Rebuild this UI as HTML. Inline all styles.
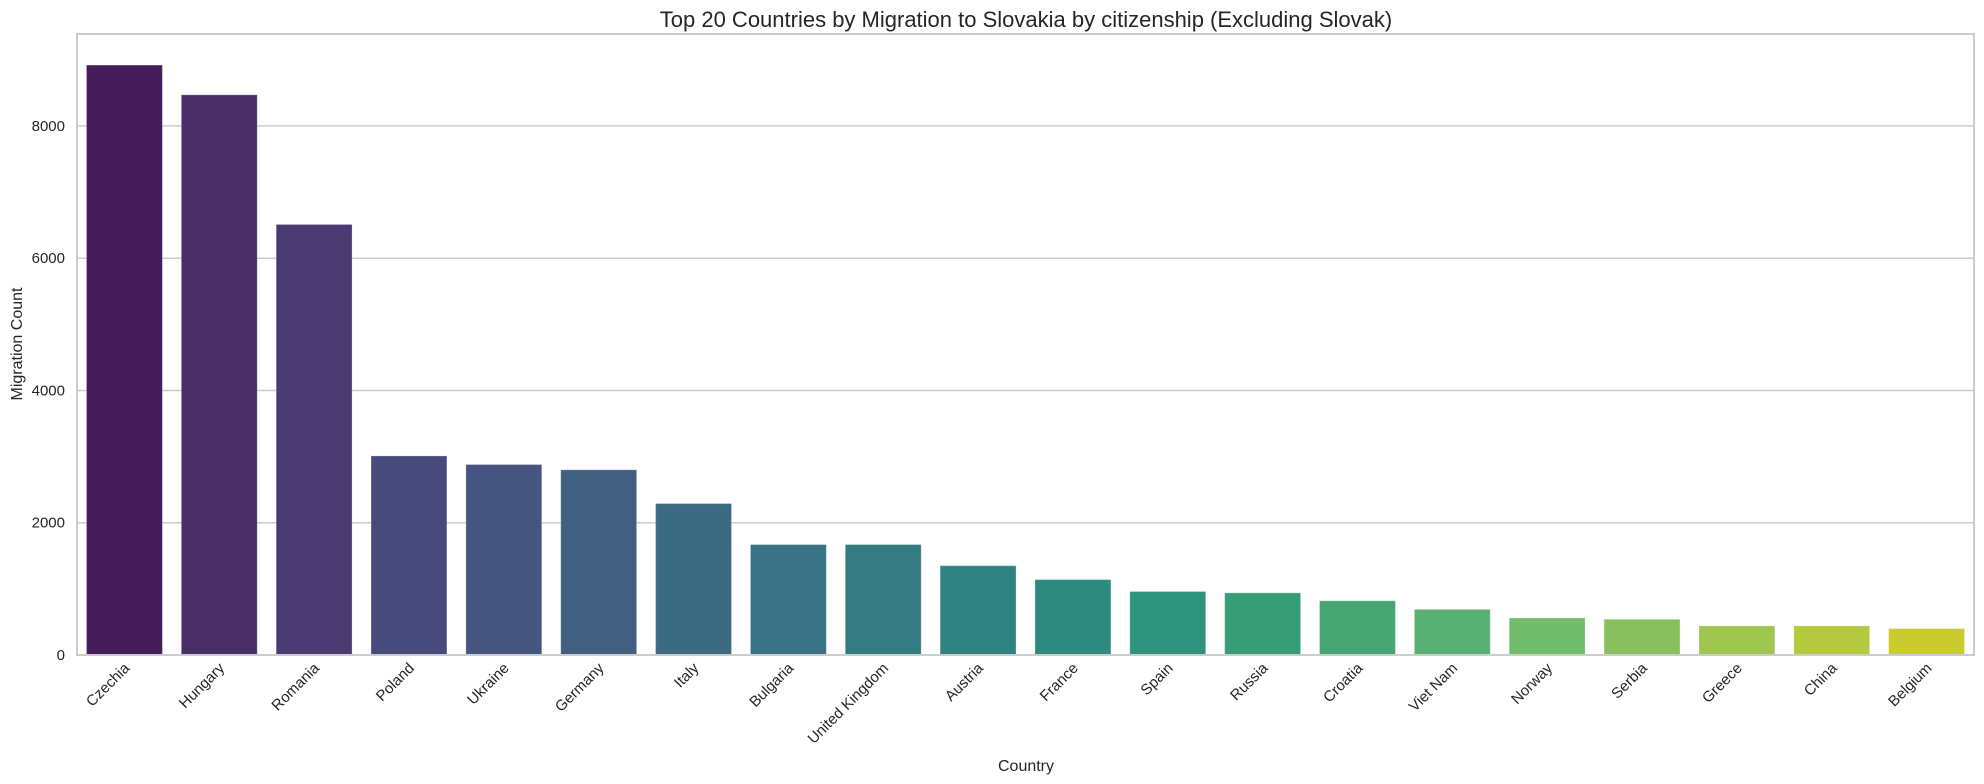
<!DOCTYPE html>
<html><head><meta charset="utf-8"><style>
html,body{margin:0;padding:0;background:#fff;}
svg{display:block;font-family:"Liberation Sans",Arial,sans-serif;}
</style></head><body>
<svg id="chart" width="1984" height="784">
<text x="1026" y="27" text-anchor="middle" font-size="22" fill="#262626">Top 20 Countries by Migration to Slovakia by citizenship (Excluding Slovak)</text>
<g id="grid"></g>
<g id="bars"></g>
<rect x="77" y="34" width="1897" height="621" fill="none" stroke="#cccccc" stroke-width="2"/>
<g id="yticks"></g>
<g id="xticks"></g>
<text x="1026" y="771" text-anchor="middle" font-size="16" fill="#262626">Country</text>
<text transform="translate(22,344) rotate(-90)" text-anchor="middle" font-size="16" fill="#262626">Migration Count</text>
</svg>
<script>
const categories=["Czechia","Hungary","Romania","Poland","Ukraine","Germany","Italy","Bulgaria","United Kingdom","Austria","France","Spain","Russia","Croatia","Viet Nam","Norway","Serbia","Greece","China","Belgium"];
const values=[8920,8470,6510,3010,2880,2800,2290,1670,1670,1350,1140,960,940,820,690,560,540,440,440,400];
const colors=["#461d5a","#492d67","#4a3a72","#484a7c","#45557f","#416081","#3d6a83","#387284","#347b84","#318383","#2e8b80","#2d947b","#379d76","#45a673","#59b073","#72bd6b","#88c05d","#9fc64e","#b4c93d","#c9cb31"];
const yTicks=[0,2000,4000,6000,8000];
const NS="http://www.w3.org/2000/svg";
const L=77,R=1974,T=34,B=655,YMAX=9390;
const yS=v=>B-(v/YMAX)*(B-T);
const pitch=(R-L)/categories.length;
const xS=i=>L+pitch*(i+0.5);
function mk(tag,attrs,parent){const e=document.createElementNS(NS,tag);for(const k in attrs)e.setAttribute(k,attrs[k]);document.getElementById(parent).appendChild(e);return e;}
yTicks.forEach(t=>{
  const y=yS(t);
  if(t>0){const g=mk("line",{x1:L,x2:R,y1:y,y2:y,stroke:"#cccccc","stroke-width":1.5},"grid");
  
  }
  const tx=mk("text",{x:L-12,y:y+5,"text-anchor":"end","font-size":15,fill:"#262626"},"yticks");
  tx.textContent=t;
  
  
});
categories.forEach((c,i)=>{
  const bw=pitch*0.8;
  const r=mk("rect",{x:xS(i)-bw/2,y:yS(values[i]),width:bw,height:B-yS(values[i]),fill:colors[i],stroke:"rgba(255,255,255,0.25)"},"bars");
  
  
  const tx=mk("text",{transform:`translate(${xS(i)+6},${B+14}) rotate(-45)`,"text-anchor":"end","font-size":15,fill:"#262626"},"xticks");
  tx.textContent=c;
  
  
});
</script>
</body></html>
